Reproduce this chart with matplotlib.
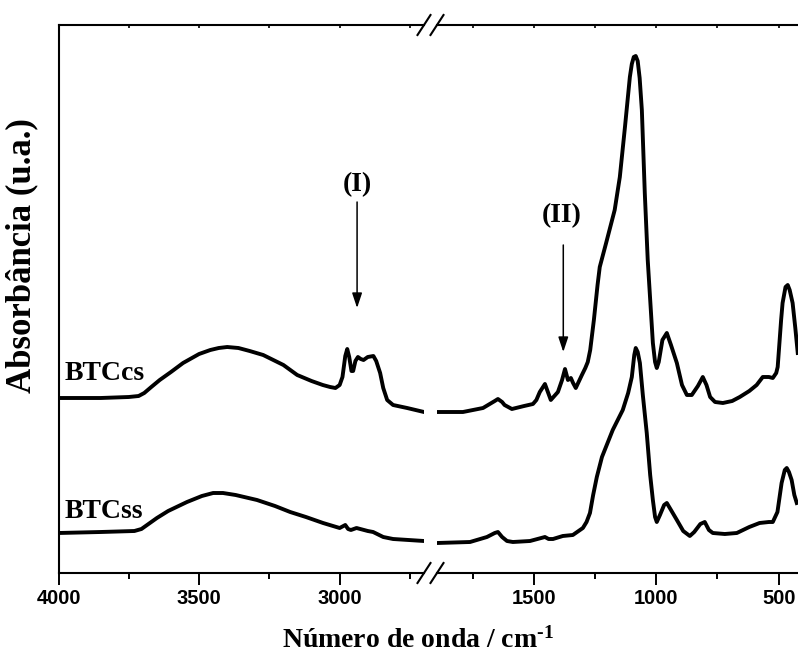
import matplotlib
matplotlib.use('Agg')
import matplotlib.pyplot as plt
from matplotlib.lines import Line2D

plt.rcParams['mathtext.fontset'] = 'custom'
plt.rcParams['mathtext.rm'] = 'Liberation Serif:bold'
plt.rcParams['mathtext.bf'] = 'Liberation Serif:bold'
plt.rcParams['mathtext.default'] = 'rm'

# FTIR spectra (wavenumber / cm-1, absorbance a.u. with offset)
cs_hi_w = [4000, 3850, 3750, 3715, 3695, 3670, 3640, 3600, 3557, 3500, 3460, 3430,
           3400, 3360, 3320, 3272, 3200, 3151, 3100, 3060, 3034, 3015, 3000, 2990,
           2980, 2973, 2966, 2958, 2952, 2944, 2935, 2925, 2915, 2900, 2880, 2870,
           2856, 2845, 2831, 2810, 2760, 2700]
cs_hi_a = [1.75, 1.75, 1.76, 1.77, 1.80, 1.86, 1.93, 2.01, 2.10, 2.19, 2.23, 2.25,
           2.26, 2.25, 2.22, 2.18, 2.08, 1.98, 1.92, 1.88, 1.86, 1.85, 1.88, 1.96,
           2.17, 2.24, 2.16, 2.02, 2.02, 2.12, 2.16, 2.14, 2.13, 2.16, 2.17, 2.12,
           2.00, 1.85, 1.73, 1.68, 1.65, 1.61]

ss_hi_w = [4000, 3850, 3730, 3705, 3680, 3650, 3610, 3543, 3490, 3450, 3415, 3370,
           3294, 3230, 3176, 3120, 3059, 3000, 2980, 2970, 2960, 2940, 2900, 2881,
           2845, 2810, 2700]
ss_hi_a = [0.40, 0.41, 0.42, 0.44, 0.49, 0.55, 0.62, 0.71, 0.77, 0.80, 0.80, 0.78,
           0.73, 0.67, 0.61, 0.56, 0.50, 0.45, 0.48, 0.44, 0.43, 0.45, 0.42, 0.41,
           0.36, 0.34, 0.32]

cs_lo_w = [1896, 1790, 1708, 1660, 1647, 1630, 1620, 1590, 1540, 1504, 1490, 1476,
           1455, 1443, 1431, 1402, 1385, 1373, 1361, 1349, 1340, 1329, 1304, 1290,
           1280, 1270, 1255, 1240, 1231, 1205, 1170, 1149, 1128, 1108, 1100, 1092,
           1084, 1076, 1068, 1059, 1047, 1035, 1014, 1005, 998, 990, 975, 957, 940,
           916, 895, 875, 855, 830, 810, 795, 780, 760, 728, 690, 659, 620, 590, 565,
           540, 524, 510, 504, 490, 484, 472, 463, 455, 443, 432, 422]
cs_lo_a = [1.61, 1.61, 1.65, 1.72, 1.74, 1.71, 1.68, 1.64, 1.67, 1.69, 1.73, 1.81,
           1.89, 1.81, 1.73, 1.81, 1.93, 2.04, 1.93, 1.95, 1.90, 1.85, 1.98, 2.05,
           2.11, 2.23, 2.53, 2.88, 3.06, 3.30, 3.63, 3.96, 4.46, 4.96, 5.09, 5.16,
           5.17, 5.12, 4.95, 4.63, 3.80, 3.13, 2.30, 2.11, 2.05, 2.11, 2.33, 2.40, 2.28,
           2.10, 1.88, 1.78, 1.78, 1.87, 1.96, 1.88, 1.76, 1.71, 1.70, 1.72, 1.76, 1.82,
           1.88, 1.96, 1.96, 1.95, 2.00, 2.06, 2.53, 2.70, 2.86, 2.88, 2.83, 2.70,
           2.45, 2.20]

ss_lo_w = [1896, 1761, 1692, 1660, 1647, 1630, 1610, 1586, 1516, 1455, 1440, 1422,
           1382, 1341, 1300, 1285, 1271, 1258, 1243, 1222, 1178, 1137, 1115, 1100,
           1090, 1084, 1076, 1067, 1055, 1039, 1025, 1014, 1005, 998, 985, 968, 957,
           940, 916, 890, 863, 845, 820, 802, 785, 769, 720, 671, 620, 578, 540, 524,
           505, 488, 475, 467, 458, 447, 436, 426]
ss_lo_a = [0.30, 0.31, 0.36, 0.40, 0.41, 0.36, 0.32, 0.31, 0.32, 0.36, 0.34, 0.34,
           0.37, 0.38, 0.45, 0.51, 0.60, 0.78, 0.96, 1.16, 1.43, 1.63, 1.80, 1.96,
           2.18, 2.25, 2.21, 2.10, 1.78, 1.40, 0.98, 0.73, 0.56, 0.51, 0.58, 0.68, 0.70,
           0.63, 0.53, 0.42, 0.37, 0.41, 0.49, 0.51, 0.43, 0.40, 0.39, 0.40, 0.46, 0.50,
           0.51, 0.51, 0.61, 0.90, 1.03, 1.05, 1.01, 0.93, 0.78, 0.70]

hi_major = [4000, 3500, 3000]
hi_minor = [3750, 3250, 2750]
lo_major = [1500, 1000, 500]
lo_minor = [1750, 1250, 750]

serif = ['Liberation Serif', 'DejaVu Serif']
sans = ['Liberation Sans', 'DejaVu Sans']

W, H = 798, 666
fig = plt.figure(figsize=(W / 100, H / 100), dpi=100)

bot = 1 - 573 / H
hgt = (573 - 25) / H
ax1 = fig.add_axes([58.5 / W, bot, (424 - 58.5) / W, hgt])
ax2 = fig.add_axes([437 / W, bot, (W - 437) / W, hgt])

lw = 2.8
ax1.plot(cs_hi_w, cs_hi_a, color='black', lw=lw, solid_joinstyle='round')
ax1.plot(ss_hi_w, ss_hi_a, color='black', lw=lw, solid_joinstyle='round')
ax2.plot(cs_lo_w, cs_lo_a, color='black', lw=lw, solid_joinstyle='round')
ax2.plot(ss_lo_w, ss_lo_a, color='black', lw=lw, solid_joinstyle='round')

ax1.set_xlim(4000, 2700)
ax2.set_xlim(1896, 421)
ax1.set_xticks(hi_major)
ax1.set_xticks(hi_minor, minor=True)
ax2.set_xticks(lo_major)
ax2.set_xticks(lo_minor, minor=True)

for ax in (ax1, ax2):
    ax.set_ylim(0, 5.48)
    ax.set_yticks([])
    for s in ax.spines.values():
        s.set_linewidth(1.5)
    ax.tick_params(axis='x', which='major', direction='out', length=8.5, width=1.4, pad=3)
    ax.tick_params(axis='x', which='minor', direction='out', length=4.3, width=1.4)
    # tiny inward ticks on the top frame
    sec = ax.secondary_xaxis('top')
    sec.set_xticks(ax.get_xticks())
    sec.set_xticks(ax.get_xticks(minor=True), minor=True)
    sec.tick_params(which='both', direction='in', length=2, width=1.2, labeltop=False)
    sec.spines['top'].set_visible(False)
    for lab in ax.get_xticklabels():
        lab.set_family(sans)
        lab.set_fontweight('bold')
        lab.set_fontsize(14.5)
ax1.spines['right'].set_visible(False)
ax2.spines['left'].set_visible(False)
ax2.spines['right'].set_visible(False)

# break marks  //
dx, dy = 6.5 / W, 10 / H
for yc in (bot, bot + hgt):
    for xc in (424 / W, 437 / W):
        fig.add_artist(Line2D([xc - dx, xc + dx], [yc - dy, yc + dy],
                              transform=fig.transFigure, color='black', lw=1.5))

# sample labels
ax1.text(3978, 1.99, 'BTCcs', family=serif, fontweight='bold', fontsize=20,
         ha='left', va='center')
ax1.text(3978, 0.61, 'BTCss', family=serif, fontweight='bold', fontsize=20,
         ha='left', va='center')

# band markers
arrow = dict(arrowstyle='-|>,head_length=0.6,head_width=0.2', color='black',
             lw=1.1, shrinkA=0, shrinkB=0, mutation_scale=15)
ax1.annotate('', xy=(2938, 2.65), xytext=(2938, 3.71), arrowprops=arrow)
ax1.text(2938, 3.88, '(I)', family=serif, fontweight='bold', fontsize=20,
         ha='center', va='center')
ax2.annotate('', xy=(1380, 2.21), xytext=(1380, 3.28), arrowprops=arrow)
ax2.text(1385, 3.57, '(II)', family=serif, fontweight='bold', fontsize=20,
         ha='center', va='center')

fig.text(418 / W, 1 - 640 / H, 'Número de onda / cm$^{\\text{-1}}$', family=serif,
         fontweight='bold', fontsize=20, ha='center', va='center')
fig.text(22 / W, 1 - 256 / H, 'Absorbância (u.a.)', family=serif, fontweight='bold',
         fontsize=25, rotation=90, ha='center', va='center')

fig.savefig('out.png', dpi=100, facecolor='white')
